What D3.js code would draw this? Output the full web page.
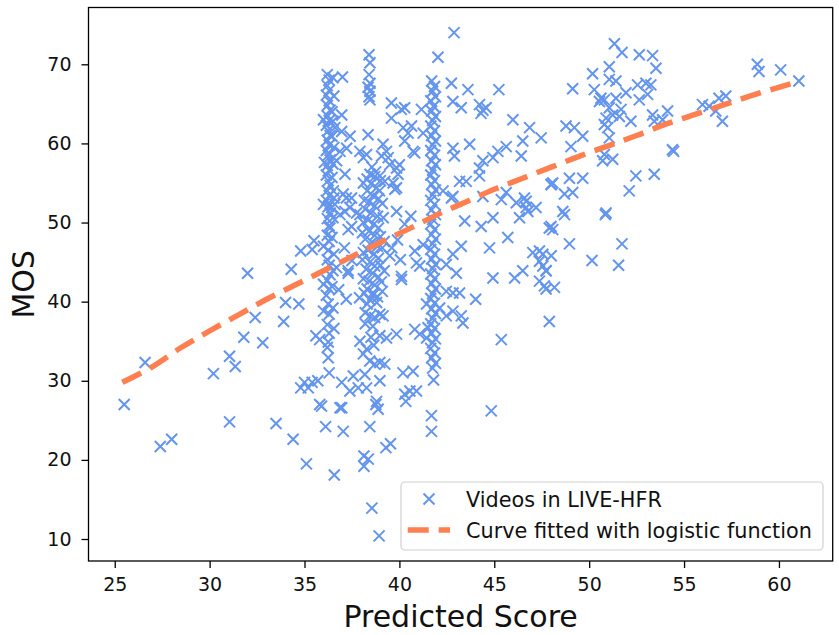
<!DOCTYPE html>
<html>
<head>
<meta charset="utf-8">
<title>LIVE-HFR scatter</title>
<script src="https://d3js.org/d3.v7.min.js"></script>
<style>
  body { margin: 0; background: #fff; }
  text { font-family: "DejaVu Sans", sans-serif; }
</style>
</head>
<body>
<div id="chart"></div>
<script>
// scatter points [predicted score, MOS], grouped by region
var leftVideos = [
  [25.5,27.0],[26.6,32.3],[27.4,21.7],[28.0,22.6],[30.2,30.9],[31.05,33.1],[31.05,24.8],
  [31.35,31.8],[31.8,35.5],[32.0,43.6],[32.4,38.0],[32.8,34.8],[33.5,24.6],[33.9,37.5],
  [34.0,39.9],[34.3,44.1],[34.4,22.6],[34.7,39.7],[34.8,29.1],[34.8,46.4],[35.1,19.5],
  [35.0,29.8],[35.2,29.1],[35.4,29.8],[35.5,47.7],[35.4,46.6],[35.6,35.7],[35.8,35.2],
  [35.8,27.0],[35.9,26.8],[36.0,38.8],[36.0,52.3],[35.7,30.0]
];
var column36 = [
  [36.2,68.7],[36.3,68.0],[36.2,67.3],[36.3,66.7],[36.15,66.1],[36.3,65.4],[36.2,64.8],
  [36.35,64.2],[36.2,63.5],[36.3,62.9],[36.15,62.3],[36.25,61.6],[36.35,61.0],[36.2,60.4],
  [36.3,59.8],[36.15,59.1],[36.25,58.5],[36.35,57.9],[36.2,57.2],[36.3,56.6],[36.15,56.0],
  [36.25,55.3],[36.35,54.7],[36.2,54.0],[36.3,53.4],[36.15,52.8],[36.25,52.0],[36.35,51.2],
  [36.2,50.5],[36.3,49.6],[36.2,48.4],[36.3,47.6],[36.25,46.5],[36.2,45.3],[36.3,44.6],
  [36.35,43.4],[36.2,42.7],[36.3,41.6],[36.15,40.8],[36.25,39.7],[36.3,38.4],[36.2,37.1],
  [36.3,36.0],[36.25,34.9],[36.2,34.2],[36.25,32.9],[36.3,31.0],
  [36.5,68.3],[36.55,66.0],[36.45,64.0],[36.5,62.8],[36.45,60.9],[36.55,59.5],[36.5,57.4],
  [36.45,55.7],[36.55,53.1],[36.5,50.6],[36.45,48.1],[36.55,46.0],[36.5,43.9],[36.45,41.9],
  [36.5,39.2],[36.55,36.6],[36.0,47.0],[36.0,42.2],[36.05,57.6],[36.0,63.0]
];
var column38 = [
  [38.4,71.2],[38.45,70.2],[38.4,68.7],[38.45,67.6],[38.35,67.1],[38.45,66.6],[38.4,65.9],
  [38.45,65.5],[38.35,61.1],[38.45,56.1],[38.3,55.5],[38.7,55.8],[38.5,54.9],[38.8,54.4],
  [38.3,54.0],[38.6,53.4],[38.9,53.0],[38.4,52.6],[38.7,52.1],[38.2,51.7],[38.5,51.2],
  [38.85,50.8],[38.35,50.3],[38.65,49.8],[38.9,49.3],[38.4,48.9],[38.7,48.4],[38.2,47.9],
  [38.55,47.5],[38.85,47.0],[38.35,46.5],[38.65,46.0],[38.9,45.5],[38.45,45.0],[38.7,44.5],
  [38.25,44.1],[38.6,43.6],[38.9,43.1],[38.4,42.6],[38.7,42.1],[38.3,41.6],[38.6,41.1],
  [38.85,40.6],[38.45,40.2],[38.2,38.6],[38.45,38.2],[38.6,36.9],[38.5,35.5],[38.65,34.5],
  [38.1,55.0],[39.0,55.3],[38.95,54.0],[39.1,52.4],[38.15,52.8],[39.15,50.6],[38.1,50.0],
  [39.0,48.2],[38.05,48.7],[39.2,47.6],[38.1,46.2],[39.1,46.8],[39.0,44.6],[38.05,45.3],
  [39.2,43.9],[38.1,42.9],[39.05,42.5],[38.15,41.1],[39.1,41.3],[38.6,40.8],[38.3,39.7],
  [38.8,39.9],[38.55,57.0],[38.75,56.4],[38.2,37.2],[38.7,38.0],
  [38.44,32.5],[38.7,32.1],[38.97,32.3],[39.23,32.1],[38.18,30.8],[38.97,30.0],[38.27,29.1],
  [38.8,27.4],[38.88,26.4],[38.76,27.0],[38.44,24.2],[38.13,20.5],[38.36,20.1],[38.13,19.2],
  [38.55,13.9],[38.93,10.4]
];
var column42 = [
  [41.7,67.9],[41.85,67.2],[41.75,66.6],[41.9,65.9],[41.65,65.4],[41.8,64.7],[41.7,64.1],
  [41.9,63.4],[41.75,62.9],[41.65,62.2],[41.85,61.6],[41.7,61.0],[41.9,60.3],[41.75,59.8],
  [41.65,59.1],[41.85,58.5],[41.7,57.8],[41.9,57.3],[41.75,56.6],[41.65,56.0],[41.85,55.3],
  [41.7,54.8],[41.9,54.1],[41.75,53.5],[41.65,52.8],[41.85,52.3],[41.7,51.6],[41.9,51.0],
  [41.75,50.4],[41.65,49.8],[41.85,49.1],[41.7,48.5],[41.9,47.9],[41.75,47.3],[41.65,46.6],
  [41.85,46.0],[41.7,45.4],[41.9,44.7],[41.75,44.2],[41.65,43.5],[41.85,42.9],[41.7,42.3],
  [41.9,41.6],[41.75,41.0],[41.65,40.4],[41.85,39.8],[41.7,39.1],[41.9,38.5],[41.75,37.9],
  [41.65,37.2],[41.85,36.6],[41.7,36.0],[41.9,35.3],[41.75,34.8],[41.65,34.1],[41.85,33.5],
  [41.7,32.9],[41.9,32.2],[41.75,31.6],[41.8,30.1],[41.69,25.6],[41.69,23.6]
];
var middleVideos = [
  [37.0,68.4],[36.96,63.6],[36.6,62.0],[36.96,61.5],[37.4,60.9],[36.87,59.0],[37.22,59.4],
  [36.69,57.8],[37.13,56.1],[36.52,54.0],[37.04,53.6],[37.48,53.1],[36.6,52.3],[37.39,51.9],
  [36.87,51.0],[37.74,51.2],[37.13,51.4],[36.43,51.9],[36.34,49.3],[37.3,49.1],[37.48,49.5],
  [37.92,51.0],[36.69,44.3],[37.3,43.6],[37.1,46.8],[37.5,45.2],[36.8,41.5],[37.2,40.3],
  [37.92,59.0],[38.27,58.6],[38.1,58.2],[39.14,59.9],[39.32,59.0],[39.41,58.2],[39.58,65.1],
  [40.1,64.3],[40.28,64.5],[39.58,63.2],[40.0,57.3],[40.2,62.0],[40.46,61.3],[40.64,62.2],
  [40.81,58.8],[40.28,60.3],[41.16,64.3],[39.06,58.4],[39.49,57.3],[39.85,56.9],[39.93,56.1],
  [39.67,55.0],[40.72,59.0],[41.25,61.3],[38.97,55.9],[39.23,55.2],[39.76,54.2],[39.85,51.4],
  [40.28,49.8],[40.6,50.8],[39.9,47.8],[39.49,45.8],[40.11,43.2],[40.11,42.8],[40.81,46.4],
  [41.25,47.2],[40.9,44.9],[41.07,44.5],[41.07,35.9],[41.43,35.4],[40.81,36.5],[41.51,36.7],
  [40.19,31.0],[40.72,31.2],[40.55,28.7],[40.28,28.3],[40.9,28.7],[40.34,27.4],[39.85,35.9],
  [39.29,21.55],[39.53,22.05],[38.97,38.4],[39.14,38.2],[37.92,35.0],[38.27,34.0],[38.1,33.4],
  [38.97,35.7],[39.32,35.4],[36.96,29.8],[37.39,28.7],[36.87,26.6],[36.96,26.6],[37.04,23.6],
  [36.11,24.2],[36.57,18.1],[37.57,30.6],[37.83,29.1],[41.43,39.7],
  [39.85,54.4],[39.6,46.8],[40.05,45.3],[37.2,53.1],[37.3,43.9],[37.9,40.5]
];
var rightVideos = [
  [42.88,74.0],[42.03,70.9],[42.74,67.6],[43.61,66.8],[42.82,65.3],[43.26,64.5],[44.22,64.9],
  [44.57,64.5],[44.3,63.8],[44.4,64.2],[45.24,66.8],[45.98,63.0],[46.86,62.0],[47.47,60.7],
  [46.5,60.3],[46.42,58.4],[45.63,59.6],[45.19,59.0],[44.93,58.2],[44.4,57.8],[44.22,56.9],
  [43.7,59.9],[42.82,59.4],[42.9,58.4],[43.17,55.2],[43.52,55.2],[44.22,55.9],[42.82,53.3],
  [45.37,52.9],[46.16,52.5],[46.68,52.7],[46.77,51.4],[47.99,54.8],[45.63,53.8],[42.3,54.0],
  [42.74,53.1],[44.4,53.3],[44.93,50.6],[46.59,53.1],[47.2,51.9],[48.08,55.0],[43.44,50.2],
  [44.31,49.5],[45.71,48.1],[46.33,50.6],[46.68,51.9],[44.75,46.8],[44.93,43.0],[46.07,43.0],
  [46.5,43.9],[47.03,46.2],[47.56,46.0],[47.38,45.1],[47.73,43.9],[47.38,42.6],[47.73,41.6],
  [47.9,49.3],[45.37,35.2],[44.84,26.2],[44.02,40.3],[43.26,47.0],[42.82,46.0],[42.47,44.7],
  [43.0,43.6],[42.47,41.3],[42.82,41.1],[43.17,41.1],[42.12,39.2],[42.47,38.2],[42.82,38.8],
  [43.26,38.2],[43.35,37.3]
];
var farRightVideos = [
  [51.33,72.6],[51.73,71.5],[52.64,71.2],[53.34,71.1],[53.52,69.5],[51.06,69.7],[50.18,68.8],
  [51.06,68.1],[51.41,67.9],[49.13,66.9],[50.27,66.8],[50.62,65.7],[50.54,65.3],[50.8,65.5],
  [51.41,65.7],[51.94,66.4],[52.55,67.4],[52.99,67.6],[53.25,67.4],[52.64,65.5],[53.08,66.2],
  [51.06,64.5],[51.24,63.6],[51.68,64.3],[51.59,63.4],[50.89,63.2],[50.8,62.4],[50.98,62.0],
  [52.2,62.8],[53.34,63.6],[53.43,62.8],[54.13,64.1],[53.87,63.0],[51.06,60.7],[48.78,62.2],
  [49.22,62.0],[49.66,60.9],[49.04,59.6],[50.8,58.6],[51.24,58.0],[50.71,57.8],[54.39,59.2],
  [54.45,59.0],[55.97,64.9],[56.32,64.7],[56.84,65.7],[57.2,66.0],[56.67,64.1],[57.02,62.8],
  [58.86,70.0],[58.95,69.1],[60.09,69.3],[61.05,67.9],[48.0,54.8],[48.7,53.6],[49.13,53.8],
  [48.96,55.6],[49.66,55.6],[52.46,55.9],[53.43,56.1],[52.11,54.0],[48.61,51.4],[48.7,51.0],
  [50.89,51.2],[50.85,51.0],[47.99,49.5],[48.08,49.1],[48.96,47.3],[51.73,47.3],[47.38,46.4],
  [48.0,45.8],[50.15,45.2],[51.55,44.6],[47.56,44.5],[47.73,43.9],[47.64,42.0],[48.17,41.8],
  [47.9,37.5]
];

// fitted logistic curve
var curveScore = [25.4, 27, 28.5, 30, 31.5, 33, 34.5, 36, 37.5, 39, 40.5, 42, 43.5, 45, 46.5, 48, 49.5, 51, 52.5, 54, 55.5, 57, 58.5, 61];
var curveMOS   = [29.8, 31.8, 34.2, 36.3, 38.3, 40.3, 42.1, 43.9, 45.7, 47.5, 49.2, 51.0, 52.6, 54.2, 55.6, 57.0, 58.4, 59.7, 61.0, 62.4, 63.6, 64.8, 66.0, 67.8];

var xTicks = [25, 30, 35, 40, 45, 50, 55, 60];
var yTicks = [10, 20, 30, 40, 50, 60, 70];
var legendLabels = ["Videos in LIVE-HFR", "Curve fitted with logistic function"];

var videos = [].concat(leftVideos, column36, column38, column42, middleVideos, rightVideos, farRightVideos);
var curve = curveScore.map(function(s, i) { return [s, curveMOS[i]]; });

var W = 839, H = 635;
var margin = {top: 7.5, right: 6.3, bottom: 74, left: 88.5};
var width = W - margin.left - margin.right,
    height = H - margin.top - margin.bottom;

var blue = "#6495ED", orange = "#FF7F50";

var svg = d3.select("#chart").append("svg")
    .attr("width", W).attr("height", H);
var g = svg.append("g")
    .attr("transform", "translate(" + margin.left + "," + margin.top + ")");

// matplotlib style 5% margins
function padded(ext) {
  var p = (ext[1] - ext[0]) * 0.05;
  return [ext[0] - p, ext[1] + p];
}
var all = videos.concat(curve);
var x = d3.scaleLinear().domain(padded(d3.extent(all, function(d) { return d[0]; }))).range([0, width]);
var y = d3.scaleLinear().domain(padded(d3.extent(all, function(d) { return d[1]; }))).range([height, 0]);

// axes
var xAxis = g.append("g")
    .attr("transform", "translate(0," + height + ")")
    .call(d3.axisBottom(x).tickValues(xTicks).tickSize(7).tickSizeOuter(0).tickPadding(10));
var yAxis = g.append("g")
    .call(d3.axisLeft(y).tickValues(yTicks).tickSize(7).tickSizeOuter(0).tickPadding(10));
[xAxis, yAxis].forEach(function(a) {
  a.select(".domain").remove();
  a.selectAll("line").attr("stroke", "#000").attr("stroke-width", 1.3);
  a.selectAll("text").attr("font-size", 19).attr("fill", "#111")
    .style("font-family", "DejaVu Sans");
});

// x markers
var m = 5.5;
var marks = g.append("g").attr("stroke", blue).attr("stroke-width", 2);
marks.selectAll("path")
  .data(videos)
  .enter()
  .append("path")
    .attr("d", function(d) {
      var cx = x(d[0]), cy = y(d[1]);
      return "M" + (cx - m) + "," + (cy - m) + "L" + (cx + m) + "," + (cy + m) +
             "M" + (cx - m) + "," + (cy + m) + "L" + (cx + m) + "," + (cy - m);
    });

// fitted curve
g.append("path")
  .datum(curve)
  .attr("fill", "none")
  .attr("stroke", orange)
  .attr("stroke-width", 5.5)
  .attr("stroke-dasharray", "21,10")
  .attr("d", d3.line()
    .x(function(d) { return x(d[0]); })
    .y(function(d) { return y(d[1]); })
    .curve(d3.curveMonotoneX));

// frame
g.append("rect")
  .attr("width", width).attr("height", height)
  .attr("fill", "none").attr("stroke", "#000").attr("stroke-width", 1.3);

// axis labels
svg.append("text")
  .attr("x", margin.left + width / 2).attr("y", 627)
  .attr("text-anchor", "middle").attr("font-size", 30).attr("fill", "#111")
  .text("Predicted Score");
svg.append("text")
  .attr("transform", "translate(34," + (margin.top + height / 2) + ") rotate(-90)")
  .attr("text-anchor", "middle").attr("font-size", 30).attr("fill", "#111")
  .text("MOS");

// legend
var lg = svg.append("g");
lg.append("rect")
  .attr("x", 401).attr("y", 482).attr("width", 422).attr("height", 68).attr("rx", 4)
  .attr("fill", "#fff").attr("fill-opacity", 0.8)
  .attr("stroke", "#d0d0d0").attr("stroke-width", 1.2);
lg.append("path")
  .attr("stroke", blue).attr("stroke-width", 2)
  .attr("d", "M" + (429 - m) + "," + (499 - m) + "L" + (429 + m) + "," + (499 + m) +
             "M" + (429 - m) + "," + (499 + m) + "L" + (429 + m) + "," + (499 - m));
lg.append("line")
  .attr("x1", 407.7).attr("x2", 450).attr("y1", 530).attr("y2", 530)
  .attr("stroke", orange).attr("stroke-width", 5.5).attr("stroke-dasharray", "21,10");
lg.selectAll("text.lab")
  .data(legendLabels)
  .enter()
  .append("text")
    .attr("class", "lab")
    .attr("x", 466)
    .attr("y", function(d, i) { return 506.5 + i * 31; })
    .attr("font-size", 20.8).attr("fill", "#111")
    .text(function(d) { return d; });
</script>
</body>
</html>
